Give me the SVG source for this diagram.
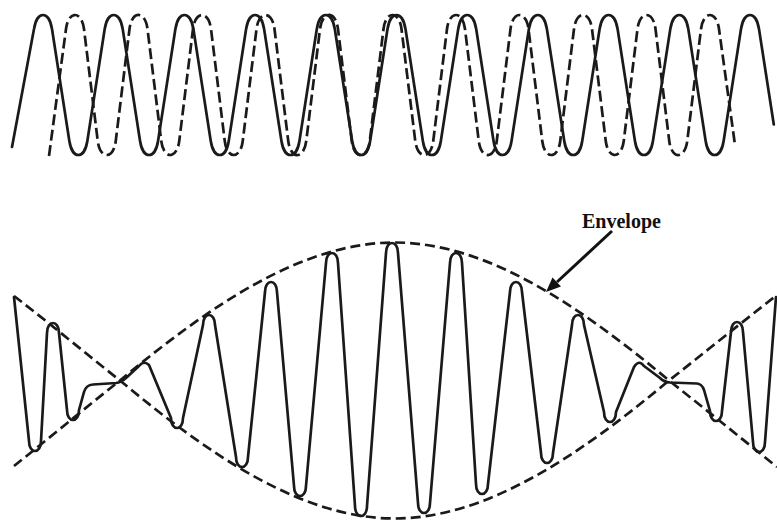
<svg xmlns="http://www.w3.org/2000/svg" width="777" height="520" viewBox="0 0 777 520">
<style>
.w{fill:none;stroke:#1a1a1a;stroke-width:2.7;stroke-linecap:round;stroke-linejoin:round}
.d{stroke-dasharray:10 5;stroke-linecap:butt}
.dt{stroke-dasharray:11 4.5;stroke-linecap:butt}
.lbl{font-family:"Liberation Serif","Times New Roman",serif;font-weight:bold;font-size:20px;fill:#111}
</style>
<rect width="777" height="520" fill="#fff"/>
<g id="top-waves">
<path id="wave-solid" class="w" d="M 12,147 L 34,29
c 2.89,-18.67 15.11,-18.67 18,0 l 17.35,112 c 2.89,18.67 15.11,18.67 18,0 l 17.35,-112
c 2.89,-18.67 15.11,-18.67 18,0 l 17.35,112 c 2.89,18.67 15.11,18.67 18,0 l 17.35,-112
c 2.89,-18.67 15.11,-18.67 18,0 l 17.35,112 c 2.89,18.67 15.11,18.67 18,0 l 17.35,-112
c 2.89,-18.67 15.11,-18.67 18,0 l 17.35,112 c 2.89,18.67 15.11,18.67 18,0 l 17.35,-112
c 2.89,-18.67 15.11,-18.67 18,0 l 17.35,112 c 2.89,18.67 15.11,18.67 18,0 l 17.35,-112
c 2.89,-18.67 15.11,-18.67 18,0 l 17.35,112 c 2.89,18.67 15.11,18.67 18,0 l 17.35,-112
c 2.89,-18.67 15.11,-18.67 18,0 l 17.35,112 c 2.89,18.67 15.11,18.67 18,0 l 17.35,-112
c 2.89,-18.67 15.11,-18.67 18,0 l 17.35,112 c 2.89,18.67 15.11,18.67 18,0 l 17.35,-112
c 2.89,-18.67 15.11,-18.67 18,0 l 17.35,112 c 2.89,18.67 15.11,18.67 18,0 l 17.35,-112
c 2.89,-18.67 15.11,-18.67 18,0 l 17.35,112 c 2.89,18.67 15.11,18.67 18,0 l 17.35,-112
c 2.89,-18.67 15.11,-18.67 18,0 l 14.8,95.5"/>
<path id="wave-dashed" class="w dt" d="M 49,156 L 66,29
c 2.29,-18.67 15.71,-18.67 18,0 l 13.75,112 c 2.29,18.67 15.71,18.67 18,0 l 13.75,-112
c 2.29,-18.67 15.71,-18.67 18,0 l 13.75,112 c 2.29,18.67 15.71,18.67 18,0 l 13.75,-112
c 2.29,-18.67 15.71,-18.67 18,0 l 13.75,112 c 2.29,18.67 15.71,18.67 18,0 l 13.75,-112
c 2.29,-18.67 15.71,-18.67 18,0 l 13.75,112 c 2.29,18.67 15.71,18.67 18,0 l 13.75,-112
c 2.29,-18.67 15.71,-18.67 18,0 l 13.75,112 c 2.29,18.67 15.71,18.67 18,0 l 13.75,-112
c 2.29,-18.67 15.71,-18.67 18,0 l 13.75,112 c 2.29,18.67 15.71,18.67 18,0 l 13.75,-112
c 2.29,-18.67 15.71,-18.67 18,0 l 13.75,112 c 2.29,18.67 15.71,18.67 18,0 l 13.75,-112
c 2.29,-18.67 15.71,-18.67 18,0 l 13.75,112 c 2.29,18.67 15.71,18.67 18,0 l 13.75,-112
c 2.29,-18.67 15.71,-18.67 18,0 l 13.75,112 c 2.29,18.67 15.71,18.67 18,0 l 13.75,-112
c 2.29,-18.67 15.71,-18.67 18,0 l 13.75,112 c 2.29,18.67 15.71,18.67 18,0 l 13.75,-112
c 2.29,-18.67 15.71,-18.67 18,0 l 16,116"/>
</g>
<g id="envelope">
<path class="w d" d="M 14,466 C 49.3,438 84.7,408.4 120,380.5 C 211.5,304.3 303,242.5 394.5,242.5 C 486,242.5 577.5,304.3 669,380.5 C 705,408.9 741,438 777,467"/>
<path class="w d" d="M 14,296 C 49.3,323 84.7,352.6 120,380.5 C 211.5,456.7 303,518.5 394.5,518.5 C 486,518.5 577.5,456.7 669,380.5 C 705,352.1 741,323 777,295"/>
</g>
<g id="beat-wave">
<path class="w" d="M 14,297
L 29,441 C 29,454.33 41,454.33 41,441
L 47,333 C 47,319.67 59,319.67 59,333
L 67,410 C 67,423.33 79,423.33 79,410
L 84,392 Q 86,385 93,384.5 L 116,383 Q 121,382.5 126,378 L 139,366 Q 144,360 149,365
L 171,418 C 171,431.33 183,431.33 183,418
L 203,325 C 203,311.67 215,311.67 215,325
L 236,457 C 236,470.33 248,470.33 248,457
L 265,292 C 265,278.67 277,278.67 277,292
L 294,486 C 294,499.33 306,499.33 306,486
L 326,263 C 326,249.67 338,249.67 338,263
L 355,506 C 355,519.33 367,519.33 367,506
L 386,253 C 386,239.67 398,239.67 398,253
L 418,503 C 418,516.33 430,516.33 430,503
L 450,263 C 450,249.67 462,249.67 462,263
L 476,484 C 476,497.33 488,497.33 488,484
L 510,292 C 510,278.67 522,278.67 522,292
L 541,453 C 541,466.33 553,466.33 553,453
L 572,325 C 572,311.67 584,311.67 584,325
L 604,412 C 604,425.33 616,425.33 616,412
L 634,367 Q 639,359 644,366
L 660,378 Q 664,382 670,382.5 L 697,383.5 Q 702,384 704,390
L 710,411 C 710,424.33 722,424.33 722,411
L 731,332 C 731,318.67 743,318.67 743,332
L 753,442 C 753,455.33 765,455.33 765,442
L 776,297"/>
</g>
<g id="envelope-label">
<text class="lbl" x="582" y="228">Envelope</text>
</g>
<g id="connectors">
<line x1="612" y1="231" x2="557" y2="282" stroke="#111" stroke-width="3"/>
<polygon points="546,292 561,286.5 552.5,277.5" fill="#111"/>
</g>
</svg>
